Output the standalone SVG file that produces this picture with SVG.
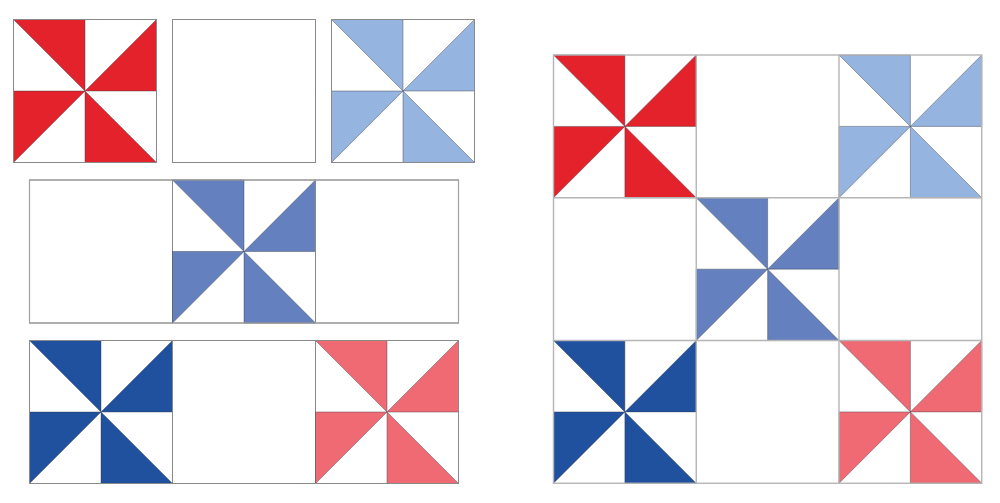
<svg xmlns="http://www.w3.org/2000/svg" xmlns:xlink="http://www.w3.org/1999/xlink" width="1000" height="503" viewBox="0 0 1000 503">
<style>
.bg{fill:#ffffff}
.blk{fill:#ffffff;stroke:#8a8a8a;stroke-width:1}
.grid{fill:none;stroke:#b5b5b5;stroke-width:1.4}
.tri{stroke:#3a3a4a;stroke-width:0.6;stroke-opacity:0.7;stroke-linejoin:miter}
.red{fill:#e4222b}
.lblue{fill:#95b4df}
.mblue{fill:#6480be}
.dblue{fill:#20519f}
.pink{fill:#ef6a72}
</style>
<defs>
<path id="pw" d="M0,0 H71.5 V71.5 Z M71.5,71.5 L143,0 V71.5 Z M0,71.5 H71.5 L0,143 Z M71.5,71.5 V143 H143 Z"/>
</defs>
<rect class="bg" x="0" y="0" width="1000" height="503"/>

<g id="left-row1">
  <g id="L1-red" transform="translate(13.5,19.5)">
    <rect class="blk" width="143" height="143"/>
    <use xlink:href="#pw" href="#pw" class="tri red"/>
    <rect width="143" height="143" fill="none" stroke="#8a8a8a" stroke-width="1"/>
  </g>
  <g id="L1-empty" transform="translate(172.5,19.5)">
    <rect class="blk" width="143" height="143"/>
  </g>
  <g id="L1-lblue" transform="translate(331.5,19.5)">
    <rect class="blk" width="143" height="143"/>
    <use xlink:href="#pw" href="#pw" class="tri lblue"/>
    <rect width="143" height="143" fill="none" stroke="#8a8a8a" stroke-width="1"/>
  </g>
</g>

<g id="left-row2">
  <g id="L2-empty1" transform="translate(29.5,180)">
    <rect class="blk" width="143" height="143"/>
  </g>
  <g id="L2-mblue" transform="translate(172.5,180)">
    <rect class="blk" width="143" height="143"/>
    <use xlink:href="#pw" href="#pw" class="tri mblue"/>
  </g>
  <g id="L2-empty2" transform="translate(315.5,180)">
    <rect class="blk" width="143" height="143"/>
  </g>
  <rect x="29.5" y="180" width="429" height="143" fill="none" stroke="#a0a0a0" stroke-width="1.2"/>
</g>

<g id="left-row3">
  <g id="L3-dblue" transform="translate(29.5,340.5)">
    <rect class="blk" width="143" height="143"/>
    <use xlink:href="#pw" href="#pw" class="tri dblue"/>
  </g>
  <g id="L3-empty" transform="translate(172.5,340.5)">
    <rect class="blk" width="143" height="143"/>
  </g>
  <g id="L3-pink" transform="translate(315.5,340.5)">
    <rect class="blk" width="143" height="143"/>
    <use xlink:href="#pw" href="#pw" class="tri pink"/>
  </g>
  <rect x="29.5" y="340.5" width="429" height="143" fill="none" stroke="#8a8a8a" stroke-width="1"/>
</g>

<g id="quilt">
  <rect x="553.5" y="55" width="428.25" height="428.25" fill="#ffffff"/>
  <g id="Q-red" transform="translate(553.5,55) scale(0.9983)">
    <use xlink:href="#pw" href="#pw" class="tri red"/>
  </g>
  <g id="Q-lblue" transform="translate(839,55) scale(0.9983)">
    <use xlink:href="#pw" href="#pw" class="tri lblue"/>
  </g>
  <g id="Q-mblue" transform="translate(696.25,197.75) scale(0.9983)">
    <use xlink:href="#pw" href="#pw" class="tri mblue"/>
  </g>
  <g id="Q-dblue" transform="translate(553.5,340.5) scale(0.9983)">
    <use xlink:href="#pw" href="#pw" class="tri dblue"/>
  </g>
  <g id="Q-pink" transform="translate(839,340.5) scale(0.9983)">
    <use xlink:href="#pw" href="#pw" class="tri pink"/>
  </g>
  <g id="Q-grid">
    <rect class="grid" x="553.5" y="55" width="428.25" height="428.25"/>
    <path class="grid" d="M696.25,55 V483.25 M839,55 V483.25 M553.5,197.75 H981.75 M553.5,340.5 H981.75"/>
  </g>
</g>
</svg>
